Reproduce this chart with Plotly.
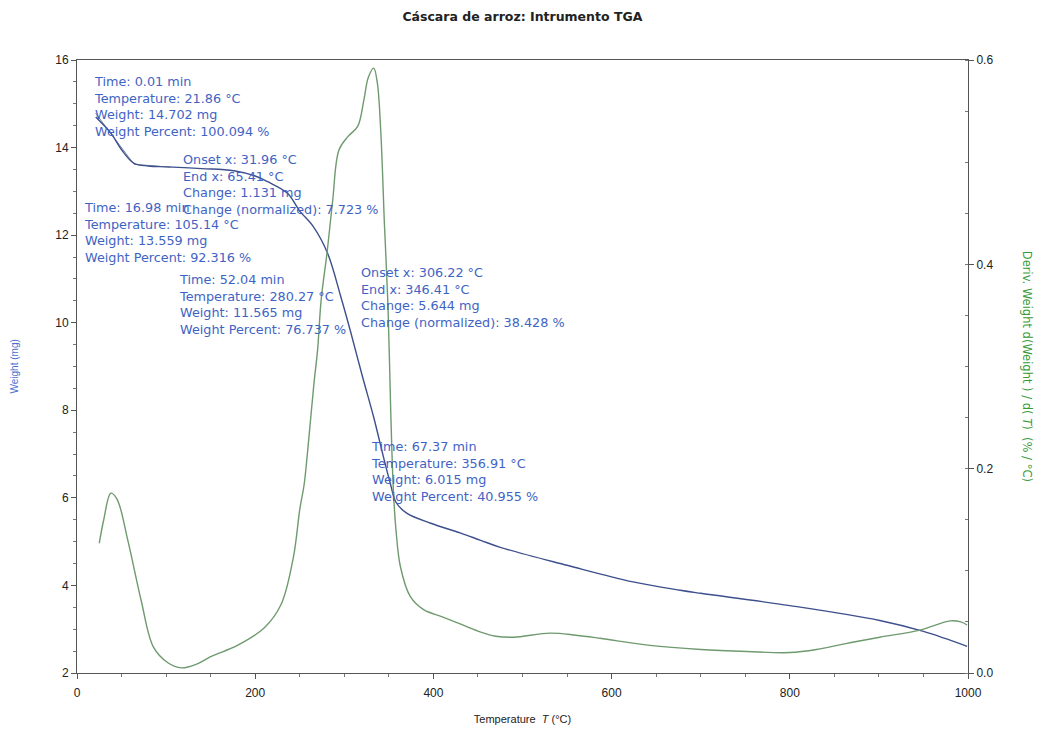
import plotly.graph_objects as go

# Weight curve (mg) vs temperature (°C)
weight_T = [21, 38, 50, 64, 80, 102, 140, 176, 200, 214, 236, 250, 265, 281, 296, 307, 320,
            333, 344, 352, 358, 370, 397, 430, 453, 475, 550, 624, 677, 700, 800, 901, 950, 999]
weight_mg = [14.70, 14.33, 13.95, 13.64, 13.58, 13.56, 13.52, 13.47, 13.35, 13.22, 12.96, 12.55,
             12.2, 11.6, 10.6, 9.8, 8.8, 7.84, 6.93, 6.3, 5.9, 5.65, 5.42, 5.2, 5.03, 4.87, 4.46,
             4.08, 3.89, 3.82, 3.54, 3.2, 2.95, 2.61]

# Derivative weight curve (%/°C)
deriv_T = [25, 30, 38, 45, 57, 72, 86, 102, 117, 135, 150, 180, 210, 229, 243, 250, 255, 260,
           266, 270, 274, 281, 287, 294, 304, 315, 322, 327, 333, 337, 341, 345, 349, 352, 355,
           358, 363, 374, 389, 410, 430, 450, 470, 490, 531, 560, 587, 643, 700, 752, 800,
           830, 864, 901, 946, 980, 992, 999]
deriv_val = [0.127, 0.150, 0.176, 0.170, 0.130, 0.071, 0.025, 0.010, 0.005, 0.009, 0.016, 0.027,
             0.044, 0.067, 0.114, 0.160, 0.185, 0.228, 0.284, 0.316, 0.365, 0.414, 0.463, 0.512,
             0.525, 0.535, 0.561, 0.583, 0.592, 0.578, 0.529, 0.44, 0.36, 0.26, 0.18, 0.14, 0.104,
             0.075, 0.062, 0.055, 0.048, 0.041, 0.036, 0.035, 0.039, 0.037, 0.034, 0.027,
             0.023, 0.021, 0.020, 0.023, 0.029, 0.035, 0.042, 0.051, 0.050, 0.047]

# Onset tangent construction for the first step
tangent_T = [21, 64, 105]
tangent_W = [14.78, 13.62, 13.55]

x_ticks = [0, 200, 400, 600, 800, 1000]
left_ticks = [2, 4, 6, 8, 10, 12, 14, 16]
right_ticks = [0.0, 0.2, 0.4, 0.6]

notes = [
    "Time: 0.01 min<br>Temperature: 21.86 °C<br>Weight: 14.702 mg<br>Weight Percent: 100.094 %",
    "Onset x: 31.96 °C<br>End x: 65.41 °C<br>Change: 1.131 mg<br>Change (normalized): 7.723 %",
    "Time: 16.98 min<br>Temperature: 105.14 °C<br>Weight: 13.559 mg<br>Weight Percent: 92.316 %",
    "Time: 52.04 min<br>Temperature: 280.27 °C<br>Weight: 11.565 mg<br>Weight Percent: 76.737 %",
    "Onset x: 306.22 °C<br>End x: 346.41 °C<br>Change: 5.644 mg<br>Change (normalized): 38.428 %",
    "Time: 67.37 min<br>Temperature: 356.91 °C<br>Weight: 6.015 mg<br>Weight Percent: 40.955 %",
]
note_pos = [(0.017, 0.980), (0.117, 0.853), (0.006, 0.775), (0.112, 0.657), (0.316, 0.669), (0.328, 0.385)]

FONT = "Liberation Sans, Arial, sans-serif"
WIDE = "DejaVu Sans, Verdana, sans-serif"
BLUE_TXT = "#3f63c4"
BLUE_LINE = "#3d4f8c"
GREEN_LINE = "#6f9a6f"

fig = go.Figure()
fig.add_trace(go.Scatter(x=tangent_T, y=tangent_W, mode="lines",
                         line=dict(color="#7a8a9a", width=1), showlegend=False, hoverinfo="skip"))
fig.add_trace(go.Scatter(x=weight_T, y=weight_mg, mode="lines", line_shape="spline",
                         line=dict(color=BLUE_LINE, width=1.4), showlegend=False))
fig.add_trace(go.Scatter(x=deriv_T, y=deriv_val, mode="lines", line_shape="spline", yaxis="y2",
                         line=dict(color=GREEN_LINE, width=1.4), showlegend=False))

annotations = []
for txt, (px, py) in zip(notes, note_pos):
    annotations.append(dict(text=txt, x=px, y=py, xref="paper", yref="paper", xanchor="left",
                            yanchor="top", align="left", showarrow=False,
                            font=dict(family=WIDE, size=12.8, color=BLUE_TXT)))
annotations.append(dict(text="Weight (mg)", x=-0.0696, y=0.50, xref="paper", yref="paper",
                        xanchor="center", yanchor="middle", textangle=-90, showarrow=False,
                        font=dict(family=FONT, size=10, color="#4a6fd0")))
annotations.append(dict(text="Deriv. Weight d(Weight ) / d( <i>T</i>)  (% / °C)", x=1.067, y=0.50,
                        xref="paper", yref="paper", xanchor="center", yanchor="middle",
                        textangle=90, showarrow=False,
                        font=dict(family=WIDE, size=11.5, color="#3a9a3a")))

fig.update_layout(
    width=1035, height=725,
    paper_bgcolor="white", plot_bgcolor="white",
    margin=dict(l=69, r=75, t=52, b=60),
    title=dict(text="<b>Cáscara de arroz: Intrumento TGA</b>", x=0.497, xanchor="center",
               y=0.9876, yanchor="middle", yref="container",
               font=dict(family=WIDE, size=12.5, color="#222")),
    font=dict(family=FONT, size=12, color="#222"),
    xaxis=dict(range=[0, 1000], tickvals=x_ticks, showgrid=False, zeroline=False, automargin=False,
               showline=True, linecolor="#555", linewidth=1, mirror=True,
               ticks="outside", ticklen=5, tickcolor="#555", ticklabelstandoff=4,
               minor=dict(dtick=50, ticks="outside", ticklen=3, tickcolor="#777"),
               title=dict(text="Temperature  <i>T</i> (°C)", font=dict(size=11), standoff=15)),
    yaxis=dict(range=[2, 16], tickvals=left_ticks, showgrid=False, zeroline=False, automargin=False,
               showline=True, linecolor="#555", linewidth=1,
               ticks="outside", ticklen=5, tickcolor="#555",
               minor=dict(dtick=0.5, ticks="outside", ticklen=3, tickcolor="#777")),
    yaxis2=dict(range=[0, 0.6], tickvals=right_ticks, tickformat=".1f", overlaying="y", side="right",
                showgrid=False, zeroline=False, showline=True, linecolor="#555", linewidth=1,
                automargin=False, ticks="outside", ticklen=5, tickcolor="#555",
                minor=dict(dtick=0.05, ticks="inside", ticklen=3, tickcolor="#777")),
    annotations=annotations,
)

fig.write_html("out.html")
